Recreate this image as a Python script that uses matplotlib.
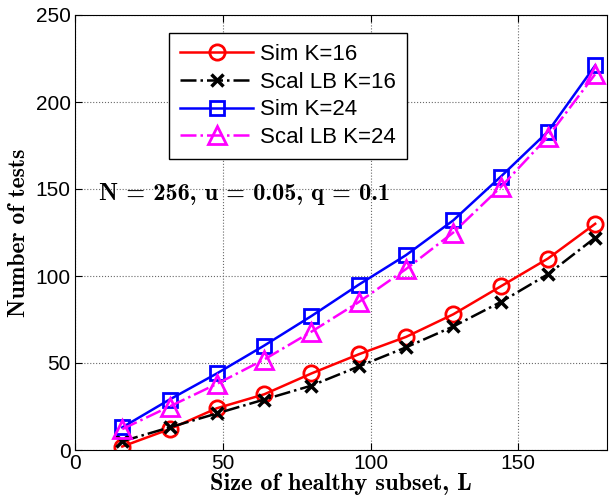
import numpy as np
from matplotlib import pyplot as plt

plt.rcParams['font.family'] = ['Liberation Sans', 'DejaVu Sans']

L = [16, 32, 48, 64, 80, 96, 112, 128, 144, 160, 176]
simK16 = [2, 12, 24, 32, 44, 55, 65, 78, 94, 110, 130]
lbK16 = [5, 13, 21, 29, 37, 48, 59, 71, 85, 101, 122]
simK24 = [13, 29, 44, 60, 77, 95, 112, 132, 157, 183, 221]
lbK24 = [12, 25, 38, 52, 68, 85, 104, 125, 151, 180, 216]

fig = plt.figure(figsize=(6.1, 5.04), dpi=100)
ax = fig.add_axes([75 / 610, 1 - 450 / 504, 532 / 610, 435 / 504])

ax.plot(L, simK16, color='red', lw=1.8, marker='o', ms=11, mfc='none', mew=2, label='Sim K=16')
ax.plot(L, lbK16, color='black', lw=1.8, ls='-.', marker='x', ms=9, mew=2.5, label='Scal LB K=16')
ax.plot(L, simK24, color='blue', lw=1.8, marker='s', ms=10, mfc='none', mew=2, label='Sim K=24')
ax.plot(L, lbK24, color='magenta', lw=1.8, ls='-.', marker='^', ms=13, mfc='none', mew=2, label='Scal LB K=24')

ax.set_xlim(0, 180)
ax.set_ylim(0, 250)
ax.set_xticks([0, 50, 100, 150])
ax.set_yticks([0, 50, 100, 150, 200, 250])
ax.tick_params(labelsize=15, direction='in', length=5, top=True, right=True, pad=3)
ax.grid(True, ls=':', color='dimgray', lw=0.8)

ax.set_xlabel('Size of healthy subset, L', fontsize=17.5, family='cmb10', labelpad=0)
ax.set_ylabel('Number of tests', fontsize=17, family='cmb10', labelpad=4)
ax.text(0.045, 0.575, 'N = 256, u = 0.05, q = 0.1', transform=ax.transAxes,
        fontsize=17.5, family='cmb10')

leg = ax.legend(loc='upper left', bbox_to_anchor=(169 / 610, 1 - 33 / 504), bbox_transform=fig.transFigure,
                borderaxespad=0, fontsize=16, fancybox=False, edgecolor='black', framealpha=1,
                handlelength=3.3, handletextpad=0.3, borderpad=0.5, labelspacing=0.3)
leg.get_frame().set_linewidth(1)

fig.savefig('out.png', dpi=100)
